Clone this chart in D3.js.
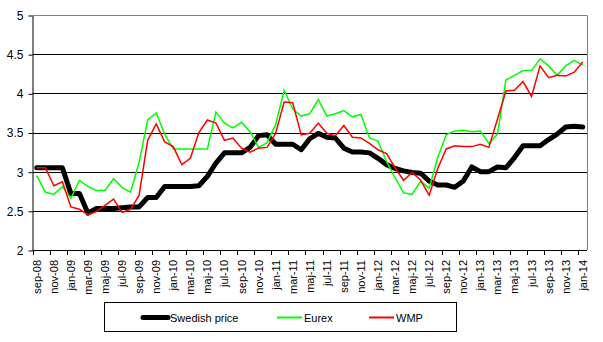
<!DOCTYPE html>
<html>
<head>
<meta charset="utf-8">
<script src="https://cdn.jsdelivr.net/npm/d3@7"></script>
<style>
  body { margin: 0; background: #fff; }
  text { font-family: "Liberation Sans", Arial, sans-serif; fill: #000; }
</style>
</head>
<body>
<svg id="chart" width="603" height="342"></svg>
<script>
// monthly categories, sep-08 .. jan-14
let months = [
  "sep-08","okt-08","nov-08","dec-08",
  "jan-09","feb-09","mar-09","apr-09","maj-09","jun-09","jul-09","aug-09","sep-09","okt-09","nov-09","dec-09",
  "jan-10","feb-10","mar-10","apr-10","maj-10","jun-10","jul-10","aug-10","sep-10","okt-10","nov-10","dec-10",
  "jan-11","feb-11","mar-11","apr-11","maj-11","jun-11","jul-11","aug-11","sep-11","okt-11","nov-11","dec-11",
  "jan-12","feb-12","mar-12","apr-12","maj-12","jun-12","jul-12","aug-12","sep-12","okt-12","nov-12","dec-12",
  "jan-13","feb-13","mar-13","apr-13","maj-13","jun-13","jul-13","aug-13","sep-13","okt-13","nov-13","dec-13",
  "jan-14"
];

let swedish = [
  3.05, 3.05, 3.05, 3.05,
  2.72, 2.72, 2.47, 2.53, 2.53, 2.53, 2.54, 2.55, 2.55, 2.67, 2.67, 2.81,
  2.81, 2.81, 2.81, 2.82, 2.94, 3.11, 3.24, 3.24, 3.24, 3.31, 3.46, 3.47,
  3.35, 3.35, 3.35, 3.28, 3.42, 3.49, 3.44, 3.43, 3.30, 3.25, 3.25, 3.24,
  3.17, 3.09, 3.04, 3.01, 2.99, 2.98, 2.88, 2.83, 2.83, 2.80, 2.88, 3.06,
  3.00, 3.00, 3.06, 3.05, 3.18, 3.33, 3.33, 3.33, 3.41, 3.48, 3.57, 3.58,
  3.57
];

let eurex = [
  2.95, 2.74, 2.71, 2.81,
  2.66, 2.89, 2.81, 2.76, 2.76, 2.91, 2.80, 2.74, 3.12, 3.66, 3.75, 3.48,
  3.29, 3.29, 3.29, 3.29, 3.29, 3.76, 3.62, 3.56, 3.63, 3.51, 3.31, 3.37,
  3.60, 4.04, 3.80, 3.71, 3.74, 3.92, 3.71, 3.74, 3.78, 3.70, 3.73, 3.43,
  3.39, 3.13, 2.92, 2.73, 2.71, 2.88, 2.79, 3.18, 3.47, 3.52, 3.53, 3.51,
  3.52, 3.36, 3.48, 4.17, 4.23, 4.29, 4.29, 4.44, 4.35, 4.23, 4.35, 4.42,
  4.36
];

let wmp = [
  3.05, 3.05, 2.82, 2.87,
  2.55, 2.52, 2.45, 2.49, 2.57, 2.65, 2.48, 2.52, 2.70, 3.40, 3.61, 3.38,
  3.32, 3.09, 3.17, 3.50, 3.66, 3.62, 3.40, 3.43, 3.30, 3.25, 3.30, 3.31,
  3.49, 3.89, 3.88, 3.47, 3.49, 3.62, 3.49, 3.46, 3.59, 3.44, 3.43, 3.36,
  3.28, 3.23, 3.05, 2.89, 2.99, 2.89, 2.70, 3.04, 3.29, 3.33, 3.32, 3.32,
  3.35, 3.31, 3.67, 4.03, 4.04, 4.15, 3.96, 4.35, 4.20, 4.23, 4.22, 4.27,
  4.40
];

let yTicks = [2, 2.5, 3, 3.5, 4, 4.5, 5];
let seriesNames = ["Swedish price", "Eurex", "WMP"];

let plotLeft = 32.5, plotRight = 587, plotTop = 15, plotBottom = 250;

let svg = d3.select("#chart");

let x = d3.scaleBand()
    .domain(months)
    .range([plotLeft, plotRight])
    .padding(0);

let y = d3.scaleLinear()
    .domain([2, 5])
    .range([plotBottom, plotTop]);

// gridlines
svg.append("g")
  .selectAll("line")
  .data(yTicks.slice(1, -1))
  .enter()
  .append("line")
    .attr("x1", plotLeft)
    .attr("x2", plotRight)
    .attr("y1", function(d) { return Math.round(y(d)) + 0.5; })
    .attr("y2", function(d) { return Math.round(y(d)) + 0.5; })
    .attr("stroke", "#000")
    .attr("stroke-width", 1);

// plot border (top and right in grey)
svg.append("path")
  .attr("d", "M" + plotLeft + "," + (plotTop + 0.5) + "H" + (plotRight + 0.5) + "V" + plotBottom)
  .attr("fill", "none")
  .attr("stroke", "#808080");

// y axis
let yAxis = d3.axisLeft(y)
    .tickValues(yTicks)
    .tickSize(4)
    .tickPadding(5)
    .tickSizeOuter(0)
    .tickFormat(function(d) { return String(d); });

let gy = svg.append("g")
  .attr("transform", "translate(" + plotLeft + ",0.5)")
  .call(yAxis);
gy.select(".domain").attr("stroke", "#000");
gy.selectAll(".tick line").attr("stroke", "#000");
gy.selectAll("text").style("font-size", "12px").attr("fill", "#000");

// x axis baseline
svg.append("line")
  .attr("x1", plotLeft).attr("x2", plotRight)
  .attr("y1", plotBottom + 0.5).attr("y2", plotBottom + 0.5)
  .attr("stroke", "#000");

let labelled = months.filter(function(d, i) { return i % 2 === 0; });

// tick marks at category boundaries
svg.append("g")
  .selectAll("line")
  .data(labelled)
  .enter()
  .append("line")
    .attr("x1", function(d) { return Math.round(x(d)) + 0.5; })
    .attr("x2", function(d) { return Math.round(x(d)) + 0.5; })
    .attr("y1", plotBottom)
    .attr("y2", plotBottom + 5)
    .attr("stroke", "#000");

// category labels, rotated
svg.append("g")
  .selectAll("text")
  .data(labelled)
  .enter()
  .append("text")
    .text(function(d) { return d; })
    .attr("transform", function(d) {
      return "translate(" + (x(d) + x.bandwidth() / 2 + 4) + "," + (plotBottom + 10) + ") rotate(-90)";
    })
    .attr("text-anchor", "end")
    .style("font-size", "11px");

// series lines
let line = d3.line()
    .x(function(d, i) { return x(months[i]) + x.bandwidth() / 2; })
    .y(function(d) { return y(d); });

svg.append("path")
  .datum(swedish)
  .attr("d", line)
  .attr("fill", "none")
  .attr("stroke", "#000")
  .attr("stroke-width", 5)
  .attr("stroke-linejoin", "round")
  .attr("stroke-linecap", "round");

svg.append("path")
  .datum(eurex)
  .attr("d", line)
  .attr("fill", "none")
  .attr("stroke", "#00ff00")
  .attr("stroke-width", 1.5);

svg.append("path")
  .datum(wmp)
  .attr("d", line)
  .attr("fill", "none")
  .attr("stroke", "#ff0000")
  .attr("stroke-width", 1.5);

// legend
let legend = svg.append("g");
legend.append("rect")
  .attr("x", 104.5).attr("y", 302.5)
  .attr("width", 352).attr("height", 29)
  .attr("fill", "#fff")
  .attr("stroke", "#000");

let legendX = [143, 277, 369];
let legendColors = ["#000", "#00ff00", "#ff0000"];
let legendWidths = [5, 2, 2];

legend.selectAll("line")
  .data(seriesNames)
  .enter()
  .append("line")
    .attr("x1", function(d, i) { return legendX[i]; })
    .attr("x2", function(d, i) { return legendX[i] + 25; })
    .attr("y1", 317.5).attr("y2", 317.5)
    .attr("stroke", function(d, i) { return legendColors[i]; })
    .attr("stroke-width", function(d, i) { return legendWidths[i]; })
    .attr("stroke-linecap", function(d, i) { return i === 0 ? "round" : "butt"; });

legend.selectAll("text")
  .data(seriesNames)
  .enter()
  .append("text")
    .text(function(d) { return d; })
    .attr("x", function(d, i) { return legendX[i] + 27; })
    .attr("y", 321.5)
    .style("font-size", "11px");
</script>
</body>
</html>
